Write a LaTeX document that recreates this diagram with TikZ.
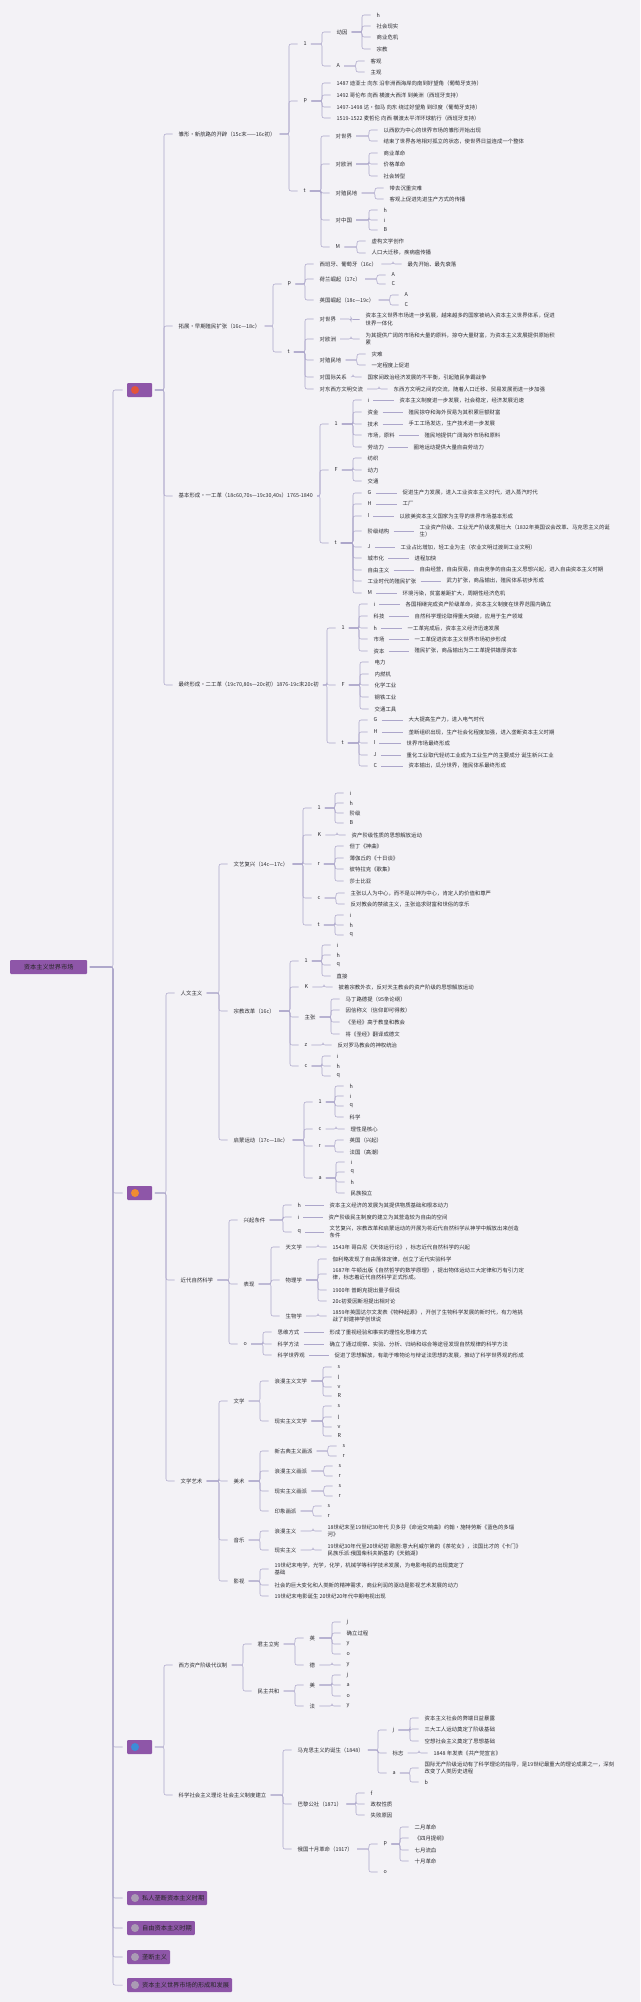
\documentclass[tikz,border=0pt]{standalone}
\usepackage{fontspec}
\setmainfont{Noto Sans CJK SC}
\usetikzlibrary{positioning}
\definecolor{bgcol}{RGB}{243,242,246}
\definecolor{linecol}{RGB}{172,166,202}
\definecolor{txtcol}{RGB}{45,45,50}
\definecolor{boxcol}{RGB}{142,86,168}
\definecolor{iconred}{RGB}{226,84,58}
\definecolor{iconorg}{RGB}{240,140,50}
\definecolor{iconblue}{RGB}{60,140,215}
\definecolor{icongray}{RGB}{170,155,180}

\tikzset{
  leaf/.style={anchor=west, inner xsep=1.5pt, inner ysep=0.5pt, text=txtcol,
               font=\fontsize{5.4}{7.6}\selectfont, align=left},
  link/.style={draw=linecol, line width=0.55pt, rounded corners=2pt,
               shorten <=2.5pt, shorten >=4.5pt},
  topbox/.style={anchor=west, fill=boxcol, rounded corners=1pt, minimum height=14pt,
                 inner xsep=3pt, inner ysep=0pt, text=black!85,
                 font=\fontsize{6.2}{7}\selectfont},
}

% children of one parent: name/y/text
\newcommand{\branch}[3]{%
  \foreach \nm/\yy/\tx in {#3} {
    \node[leaf] (\nm) at (#2,\yy) {\tx};
    \draw[link] (#1.east) -| ([xshift=-13pt]\nm.west) -- (\nm.west);
  }}
% label plus its one text: name/y/label/x/text
\newcommand{\pairs}[3]{%
  \foreach \nm/\yy/\lb/\xx/\tx in {#3} {
    \node[leaf] (\nm) at (#2,\yy) {\lb};
    \draw[link] (#1.east) -| ([xshift=-13pt]\nm.west) -- (\nm.west);
    \node[leaf] (\nm-t) at (\xx,\yy) {\tx};
    \draw[link] (\nm.east) -- (\nm-t.west);
  }}

\begin{document}
\begin{tikzpicture}[x=1pt,y=-1pt]
\fill[bgcol] (0,0) rectangle (640,2002);
\useasboundingbox (0,0) rectangle (640,2002);

% ── root and first level ────────────────────────────────────────────
\node[topbox, minimum width=77pt] (root) at (10,967) {资本主义世界市场};
\node[topbox, minimum width=25pt] (ta) at (127,390) {};
\node[topbox, minimum width=25pt] (tb) at (127,1193) {};
\node[topbox, minimum width=25pt] (tc) at (127,1747) {};
\node[topbox] (td) at (127,1898) {\hspace*{12pt}私人垄断资本主义时期};
\node[topbox] (te) at (127,1928) {\hspace*{12pt}自由资本主义时期};
\node[topbox] (tf) at (127,1957) {\hspace*{12pt}垄断主义};
\node[topbox] (tg) at (127,1985) {\hspace*{12pt}资本主义世界市场的形成和发展};
\fill[iconred]  ([xshift=8pt]ta.west) circle (4pt);
\fill[iconorg]  ([xshift=8pt]tb.west) circle (4pt);
\fill[iconblue] ([xshift=8pt]tc.west) circle (4pt);
\foreach \b in {td,te,tf,tg} \fill[icongray] ([xshift=8pt]\b.west) circle (4pt);
\foreach \b in {ta,tb,tc,td,te,tf,tg}
  \draw[link] (root.east) -| ([xshift=-14pt]\b.west) -- (\b.west);

% ── section A: world market ─────────────────────────────────────────
\branch{ta}{177}{a1/134/雏形·新航路的开辟（15c末——16c初）,a2/326/拓展·早期殖民扩张（16c—18c）,
  a3/496/{基本形成·一工革（18c60,70s—19c30,40s）1765-1840},
  a4/685/{最终形成·二工革（19c70,80s—20c初）1876-19c末20c初}}

\branch{a1}{302}{a11/44/1,a12/101/p,a13/191/t}
\branch{a11}{335}{a111/32/动因,a112/66/A}
\branch{a111}{375}{a1111/15/h,a1112/26/社会现实,a1113/37/商业危机,a1114/49/宗教}
\branch{a112}{369}{a1121/61/客观,a1122/72/主观}
\branch{a12}{335}{a121/83/1487 迪亚士 向东 沿非洲西海岸向南到好望角（葡萄牙支持）,
  a122/95/1492 哥伦布 向西 横渡大西洋 到美洲（西班牙支持）,
  a123/107/1497-1498 达·伽马 向东 绕过好望角 到印度（葡萄牙支持）,
  a124/118/1519-1522 麦哲伦 向西 横渡太平洋环球航行（西班牙支持）}
\branch{a13}{334}{a131/136/对世界,a132/164/对欧洲,a133/193/对殖民地,a134/220/对中国,a135/247/M}
\branch{a131}{382}{a1311/130/以西欧为中心的世界市场的雏形开始出现,
  a1312/141/结束了世界各地相对孤立的状态，使世界日益连成一个整体}
\branch{a132}{382}{a1321/153/商业革命,a1322/164/价格革命,a1323/176/社会转型}
\branch{a133}{388}{a1331/188/带去沉重灾难,a1332/199/客观上促进先进生产方式的传播}
\branch{a134}{382}{a1341/210/h,a1342/220/i,a1343/230/B}
\branch{a135}{370}{a1351/241/虚构文学创作,a1352/253/人口大迁移，疾病瘟传播}

\branch{a2}{286}{a21/284/p,a22/352/t}
\branch{a21}{318}{a211/264/西班牙、葡萄牙（16c）,a212/279/荷兰崛起（17c）,a213/300/英国崛起（18c—19c）}
\branch{a211}{406}{a2111/264/最先开始、最先衰落}
\branch{a212}{390}{a2121/275/A,a2122/284/C}
\branch{a213}{403}{a2131/295/A,a2132/305/C}
\branch{a22}{318}{a221/319/对世界,a222/339/对欧洲,a223/360/对殖民地,a224/377/对国际关系,a225/389/对东西方文明交流}
\branch{a221}{364}{a2211/319.5/{资本主义世界市场进一步拓展，越来越多的国家被纳入资本主义世界体系，促进\\世界一体化}}
\branch{a222}{364}{a2221/339/{为其提供广阔的市场和大量的原料，掠夺大量财富，为资本主义发展提供原始积\\累}}
\branch{a223}{370}{a2231/354/灾难,a2232/365/一定程度上促进}
\branch{a224}{366}{a2241/377/国家间政治经济发展的不平衡，引起殖民争霸战争}
\branch{a225}{392}{a2251/389/东西方文明之间的交流，随着人口迁移、贸易发展而进一步加强}

\branch{a3}{333}{a31/424/1,a32/470/F,a33/543/t}
\pairs{a31}{366}{a311/400/i/398/资本主义制度进一步发展，社会稳定，经济发展迅速,
  a312/412/资金/407/殖民掠夺和海外贸易为其积累巨额财富,
  a313/424/技术/407/手工工场发达，生产技术进一步发展,
  a314/435/市场，原料/423/殖民地提供广阔海外市场和原料,
  a315/447/劳动力/412/圈地运动提供大量自由劳动力}
\branch{a32}{366}{a321/458/纺织,a322/470/动力,a323/481/交通}
\pairs{a33}{366}{a331/493/G/401/促进生产力发展，进入工业资本主义时代，进入蒸汽时代,
  a332/504/H/401/工厂,
  a333/516/I/398/以欧美资本主义国家为主导的世界市场基本形成,
  a334/531/阶级结构/418/{工业资产阶级、工业无产阶级发展壮大（1832年英国议会改革、马克思主义的诞\\生）},
  a335/547/J/399/工业占比增加，轻工业为主（农业文明过渡到工业文明）,
  a336/558/城市化/413/进程加快,
  a337/570/自由主义/418/自由经营，自由贸易，自由竞争的自由主义思想兴起，进入自由资本主义时期,
  a338/581/工业时代的殖民扩张/445/武力扩张，商品输出，殖民体系初步形成,
  a339/593/M/401/环境污染，贫富差距扩大，周期性经济危机}

\branch{a4}{340}{a41/628/1,a42/685/F,a43/743/t}
\pairs{a41}{372}{a411/604/i/404/各国相继完成资产阶级革命，资本主义制度在世界范围内确立,
  a412/616/科技/413/自然科学理论取得重大突破，应用于生产领域,
  a413/628/h/406/一工革完成后，资本主义经济迅速发展,
  a414/639/市场/413/一工革促进资本主义世界市场初步形成,
  a415/651/资本/413/殖民扩张，商品输出为二工革提供雄厚资本}
\branch{a42}{373}{a421/662/电力,a422/674/内燃机,a423/685/化学工业,a424/697/钢铁工业,a425/709/交通工具}
\pairs{a43}{372}{a431/720/G/407/大大提高生产力，进入电气时代,
  a432/732/H/407/垄断组织出现，生产社会化程度加强，进入垄断资本主义时期,
  a433/743/I/405/世界市场最终形成,
  a434/755/J/405/重化工业取代轻纺工业成为工业生产的主要成分 诞生新兴工业,
  a435/766/C/407/资本输出，瓜分世界，殖民体系最终形成}

% ── section B: thought, science, arts ───────────────────────────────
\branch{tb}{179}{b1/993/人文主义,b2/1280/近代自然科学,b3/1481/文学艺术}
\branch{b1}{232}{b11/864/文艺复兴（14c—17c）,b12/1011/宗教改革（16c）,b13/1140/启蒙运动（17c—18c）}

\branch{b11}{316}{b111/808/1,b112/835/K,b113/864/r,b114/898/c,b115/925/t}
\branch{b111}{348}{b1111/793/i,b1112/803/h,b1113/813/阶级,b1114/823/B}
\branch{b112}{350}{b1121/835/资产阶级性质的思想解放运动}
\branch{b113}{348}{b1131/846/但丁《神曲》,b1132/858/薄伽丘的《十日谈》,b1133/869/彼特拉克《歌集》,b1134/881/莎士比亚}
\branch{b114}{349}{b1141/893/主张以人为中心，而不是以神为中心，肯定人的价值和尊严,
  b1142/904/反对教会的禁欲主义，主张追求财富和世俗的享乐}
\branch{b115}{348}{b1151/915/i,b1152/925/h,b1153/935/q}

\branch{b12}{303}{b121/961/1,b122/987/K,b123/1017/主张,b124/1045/z,b125/1066/c}
\branch{b121}{335}{b1211/945/i,b1212/955/h,b1213/965/q,b1214/976/直接}
\branch{b122}{337}{b1221/987/披着宗教外衣，反对天主教会的资产阶级的思想解放运动}
\branch{b123}{344}{b1231/999/马丁路德提（95条论纲）,b1232/1010/因信称义（信仰即可得救）,
  b1233/1022/《圣经》高于教皇和教会,b1234/1034/将《圣经》翻译成德文}
\branch{b124}{336}{b1241/1045/反对罗马教会的神权统治}
\branch{b125}{335}{b1251/1056/i,b1252/1066/h,b1253/1076/q}

\branch{b13}{317}{b131/1102/1,b132/1129/c,b133/1146/r,b134/1178/a}
\branch{b131}{348}{b1311/1086/h,b1312/1096/i,b1313/1106/q,b1314/1117/科学}
\branch{b132}{349}{b1321/1129/理性是核心}
\branch{b133}{348}{b1331/1140/英国（兴起）,b1332/1152/法国（高潮）}
\branch{b134}{349}{b1341/1162/i,b1342/1172/q,b1343/1182/h,b1344/1193/民族独立}

\branch{b2}{242}{b21/1220/兴起条件,b22/1284/表现,b23/1344/o}
\pairs{b21}{296}{b211/1205/h/328/资本主义经济的发展为其提供物质基础和根本动力,
  b212/1217/i/327/资产阶级民主制度的建立为其营造较为自由的空间,
  b213/1232/q/328/{文艺复兴，宗教改革和启蒙运动的开展为将近代自然科学从神学中解放出来创造\\条件}}
\branch{b22}{284}{b221/1247/天文学,b222/1280/物理学,b223/1316/生物学}
\branch{b221}{331}{b2211/1247/1543年 哥白尼《天体运行论》，标志近代自然科学的兴起}
\branch{b222}{331}{b2221/1259/伽利略发现了自由落体定律，创立了近代实验科学,
  b2222/1274/{1687年 牛顿出版《自然哲学的数学原理》，提出物体运动三大定律和万有引力定\\律，标志着近代自然科学正式形成。},
  b2223/1290/1900年 普朗克提出量子假说,
  b2224/1301/20c初爱因斯坦提出相对论}
\branch{b223}{331}{b2231/1316/{1859年英国达尔文发表《物种起源》，开创了生物科学发展的新时代，有力地挑\\战了封建神学创世说}}
\pairs{b23}{276}{b231/1332/思维方式/328/形成了重视经验和事实的理性化思维方式,
  b232/1344/科学方法/328/确立了通过观察、实验、分析、归纳和综合等途径发现自然规律的科学方法,
  b233/1355/科学世界观/333/促进了思想解放，有助于唯物论与辩证法思想的发展，推动了科学世界观的形成}

\branch{b3}{232}{b31/1401/文学,b32/1481/美术,b33/1540/音乐,b34/1581/影视}
\branch{b31}{273}{b311/1381/浪漫主义文学,b312/1421/现实主义文学}
\branch{b311}{336}{b3111/1367/s,b3112/1377/l,b3113/1387/v,b3114/1396/R}
\branch{b312}{336}{b3121/1406/s,b3122/1417/l,b3123/1427/v,b3124/1436/R}
\branch{b32}{273}{b321/1451/新古典主义画派,b322/1471/浪漫主义画派,b323/1491/现实主义画派,b324/1511/印象画派}
\branch{b321}{341}{b3211/1446/s,b3212/1456/r}
\branch{b322}{337}{b3221/1466/s,b3222/1476/r}
\branch{b323}{337}{b3231/1486/s,b3232/1496/r}
\branch{b324}{326}{b3241/1506/s,b3242/1516/r}
\branch{b33}{273}{b331/1531/浪漫主义,b332/1550/现实主义}
\branch{b331}{326}{b3311/1531/{18世纪末至19世纪30年代 贝多芬《命运交响曲》约翰·施特劳斯《蓝色的多瑙\\河》}}
\branch{b332}{326}{b3321/1550/{19世纪30年代至20世纪初 歌剧:意大利威尔第的《茶花女》，法国比才的《卡门》\\民族乐派:俄国柴科夫斯基的《天鹅湖》}}
\branch{b34}{273}{b341/1569/{19世纪末电学，光学，化学，机械学等科学技术发展，为电影电视的出现奠定了\\基础},
  b342/1585/社会的巨大变化和人类新的精神需求，商业利润的驱动是影视艺术发展的动力,
  b343/1596/19世纪末电影诞生 20世纪20年代中期电视出现}

% ── section C: political systems ────────────────────────────────────
\branch{tc}{177}{c1/1665/西方资产阶级代议制,c2/1795/科学社会主义理论 社会主义制度建立}
\branch{c1}{256}{c11/1644/君主立宪,c12/1691/民主共和}
\branch{c11}{308}{c111/1638/英,c112/1665/德}
\branch{c111}{345}{c1111/1622/j,c1112/1633/确立过程,c1113/1644/y,c1114/1654/o}
\branch{c112}{345}{c1121/1665/y}
\branch{c12}{308}{c121/1685/美,c122/1706/法}
\branch{c121}{345}{c1211/1675/j,c1212/1685/a,c1213/1696/o}
\branch{c122}{345}{c1221/1706/y}

\branch{c2}{296}{c21/1750/马克思主义的诞生（1848）,c22/1804/巴黎公社（1871）,c23/1849/俄国十月革命（1917）}
\branch{c21}{391}{c211/1730/j,c212/1753/标志,c213/1773/a}
\branch{c211}{423}{c2111/1718/资本主义社会的弊端日益暴露,c2112/1729/三大工人运动奠定了阶级基础,c2113/1741/空想社会主义奠定了思想基础}
\branch{c212}{432}{c2121/1753/1848 年发表《共产党宣言》}
\branch{c213}{423}{c2131/1768/{国际无产阶级运动有了科学理论的指导，是19世纪最重大的理论成果之一，深刻\\改变了人类历史进程},c2132/1782/b}
\branch{c22}{369}{c221/1793/f,c222/1804/政权性质,c223/1815/失败原因}
\branch{c23}{382}{c231/1844/p,c232/1872/o}
\branch{c231}{413}{c2311/1827/二月革命,c2312/1838/《四月提纲》,c2313/1850/七月流血,c2314/1861/十月革命}

\end{tikzpicture}
\end{document}
